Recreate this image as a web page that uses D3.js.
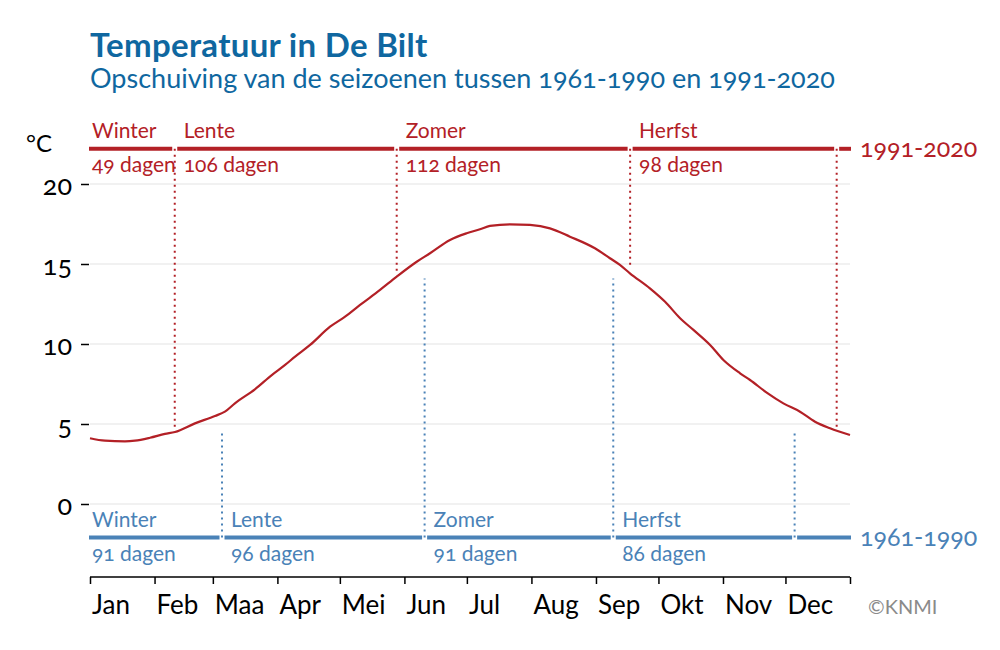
<!DOCTYPE html>
<html><head><meta charset="utf-8">
<script src="https://cdn.jsdelivr.net/npm/d3@7"></script>
<style>
body{margin:0;background:#fff;}
svg text{font-family:Lato,"Open Sans",sans-serif;font-variant-numeric:oldstyle-nums;font-feature-settings:"onum" 1;}
</style></head><body>
<svg id="chart" width="1000" height="650"></svg>
<script>
// ---- data ----
const monthLabels = ["Jan","Feb","Maa","Apr","Mei","Jun","Jul","Aug","Sep","Okt","Nov","Dec"];
const monthStarts = [0,31,59,90,120,151,181,212,243,273,304,334,365];
const yTicks = [0,5,10,15,20];
const curveDays  = [0,7.2,16.8,21.6,28.8,36,40.8,50.4,60,64.8,69.6,79.2,87.3,93.7,98.5,105.7,115.3,122.5,129.7,139.3,147.3,156.9,163.3,172.9,180.9,187.3,192.1,201.7,211.3,220.9,230.5,242.5,249.7,254.5,259.3,268.9,276.2,283.4,289.8,297.8,304.2,312.2,317,325,333,341,348.2,355.4,365];
const curveTemps = [4.11,3.96,3.92,3.96,4.14,4.38,4.5,5.04,5.5,5.77,6.29,7.17,8.06,8.69,9.21,9.94,11.08,11.71,12.44,13.38,14.21,15.14,15.67,16.5,16.92,17.17,17.38,17.48,17.44,17.23,16.71,15.98,15.36,14.94,14.42,13.48,12.64,11.61,10.88,9.94,9.0,8.17,7.75,6.96,6.29,5.77,5.14,4.73,4.31];
const seasonNames = ["Winter","Lente","Zomer","Herfst"];
const newBoundaryDays  = [40.7,147.3,259.4,358.6];
const newBoundaryTemps = [4.83,14.42,14.83,4.83];
const newDurations = ["49 dagen","106 dagen","112 dagen","98 dagen"];
const oldBoundaryDays  = [63.4,160.7,251.3,338.4];
const oldBoundaryTemps = [4.52,14.1,14.1,4.52];
const oldDurations = ["91 dagen","96 dagen","91 dagen","86 dagen"];
const seriesLabels = ["1991-2020","1961-1990"];
const seriesLevels = [22.2,-2.1];

// ---- styles ----
const RED = "#b32026", BLUE = "#4a82b7", TITLE = "#0f67a0";
const svg = d3.select("#chart");
const x = d3.scaleLinear().domain([0,365]).range([90,850]);
const y = d3.scaleLinear().domain([0,20]).range([504,184]);

// title
svg.append("text").attr("x",90).attr("y",57).attr("fill",TITLE)
  .style("font-size","33px").style("font-weight","bold").style("letter-spacing","0.3px").text("Temperatuur in De Bilt");
svg.append("text").attr("x",90).attr("y",88).attr("fill",TITLE)
  .style("font-size","27px").text("Opschuiving van de seizoenen tussen 1961-1990 en 1991-2020");

// gridlines
svg.append("g").selectAll("line").data(yTicks).join("line")
  .attr("x1",90).attr("x2",850).attr("y1",d=>y(d)).attr("y2",d=>y(d))
  .attr("stroke","#e3e3e3").attr("stroke-width",1.2);

// y axis
const yAxis = svg.append("g").attr("transform","translate(89,0)")
  .call(d3.axisLeft(y).tickValues(yTicks).tickSize(8).tickPadding(9).tickFormat(d3.format("d")));
yAxis.attr("font-family",null).attr("font-size",null);
yAxis.select(".domain").remove();
yAxis.selectAll(".tick line").attr("stroke","#000").attr("stroke-width",1.5);
yAxis.selectAll(".tick text").attr("fill","#000").attr("dy","0.4em")
  .style("font-size","27px").style("font-family","Lato,sans-serif")
  .style("font-variant-numeric","oldstyle-nums").style("font-feature-settings","'onum' 1");
svg.append("text").attr("x",26).attr("y",152).style("font-size","24px").attr("fill","#000").text("°C");

// x axis
const xAxis = svg.append("g").attr("transform","translate(0,577)")
  .call(d3.axisBottom(x).tickValues(monthStarts).tickSize(7).tickSizeOuter(0).tickFormat(""));
xAxis.select(".domain").attr("stroke","#000").attr("stroke-width",1.5).attr("d","M90,0H850");
xAxis.selectAll(".tick line").attr("stroke","#000").attr("stroke-width",1.5);
svg.append("g").selectAll("text").data(monthLabels).join("text")
  .attr("x",(d,i)=>x(monthStarts[i])+2).attr("y",614)
  .style("font-size","26px").attr("fill","#000").text(d=>d);

// season bands
function drawSeries(bDays,bTemps,durations,level,color){
  const g = svg.append("g");
  const yl = y(level);
  const edges = [0,...bDays,365];
  for(let i=0;i<edges.length-1;i++){
    const x1 = i===0 ? x(edges[i])-1 : x(edges[i])+2.5;
    const x2 = i===edges.length-2 ? x(edges[i+1])+1 : x(edges[i+1])-2.5;
    g.append("line").attr("x1",x1).attr("x2",x2).attr("y1",yl).attr("y2",yl)
      .attr("stroke",color).attr("stroke-width",4);
  }
  bDays.forEach((d,i)=>{
    g.append("line").attr("x1",x(d)).attr("x2",x(d))
      .attr("y1",yl).attr("y2",y(bTemps[i]))
      .attr("stroke",color).attr("stroke-width",2).attr("stroke-dasharray","2,4");
  });
  const starts = [0,...bDays.slice(0,3)];
  seasonNames.forEach((n,i)=>{
    const tx = i===0 ? x(0)+2 : x(starts[i])+9;
    g.append("text").attr("x",tx).attr("y",yl-11).attr("fill",color).style("font-size","21px").text(n);
    g.append("text").attr("x",tx).attr("y",yl+23).attr("fill",color).style("font-size","21px").text(durations[i]);
  });
}
drawSeries(newBoundaryDays,newBoundaryTemps,newDurations,seriesLevels[0],RED);
drawSeries(oldBoundaryDays,oldBoundaryTemps,oldDurations,seriesLevels[1],BLUE);

svg.append("text").attr("x",860).attr("y",y(seriesLevels[0])+8).attr("fill",RED).style("font-size","25px").text(seriesLabels[0]);
svg.append("text").attr("x",860).attr("y",y(seriesLevels[1])+8).attr("fill",BLUE).style("font-size","25px").text(seriesLabels[1]);

// temperature curve
const line = d3.line().x((d,i)=>x(curveDays[i])).y((d,i)=>y(curveTemps[i])).curve(d3.curveMonotoneX);
svg.append("path").datum(curveTemps).attr("d",line).attr("fill","none")
  .attr("stroke",RED).attr("stroke-width",2.2);

svg.append("text").attr("x",868).attr("y",614).attr("fill","#8a8a8a").style("font-size","20px").text("©KNMI");
</script></body></html>
